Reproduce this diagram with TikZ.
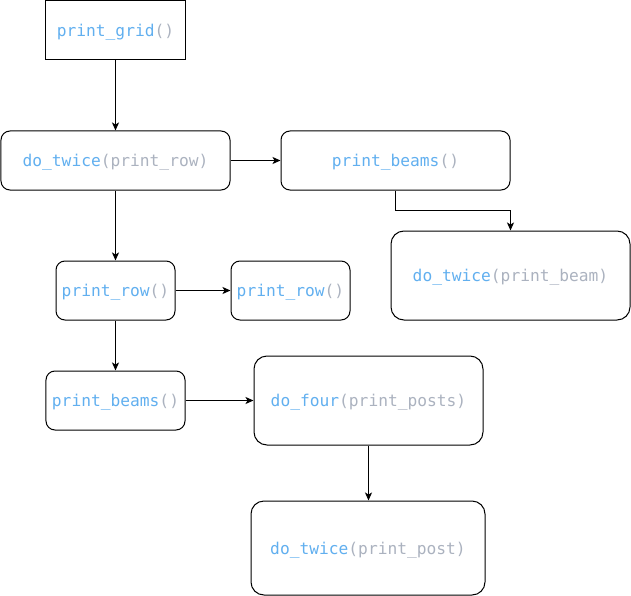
\documentclass[tikz,border=0pt]{standalone}
\usepackage{fontspec}
\setmonofont{DejaVu Sans Mono}
\usetikzlibrary{arrows.meta}
\definecolor{fnblue}{HTML}{61AFEF}
\definecolor{argray}{HTML}{ABB2BF}
\newcommand{\fname}[1]{\textcolor{fnblue}{#1}}
\newcommand{\fargs}[1]{\textcolor{argray}{#1}}

\tikzstyle{call} = [draw=black, line width=1bp, rectangle, inner sep=0pt,
  text depth=0pt, font=\ttfamily\fontsize{16.3}{19}\selectfont]
\tikzstyle{callbox} = [call, rounded corners=9bp, minimum height=59bp]
\tikzstyle{bigbox} = [call, rounded corners=13bp]
\tikzstyle{flow} = [-{Stealth[length=8bp,width=7bp,inset=2bp]}, line width=1bp]

\begin{document}
\begin{tikzpicture}[x=1bp, y=-1bp]
        \useasboundingbox (0,0) rectangle (631,596);
        \node [call, minimum width=139bp, minimum height=59bp]
                                    (grid)    at (115.5, 30.5) {\fname{print\_grid}\fargs{()}};
        \node [callbox, minimum width=229bp] (twicerow) at (115.5,160.5) {\fname{do\_twice}\fargs{(print\_row)}};
        \node [callbox, minimum width=229bp] (beams1)   at (395.5,160.5) {\fname{print\_beams}\fargs{()}};
        \node [bigbox, minimum width=239bp, minimum height=89bp]
                                    (twicebeam) at (510.5,275.5) {\fname{do\_twice}\fargs{(print\_beam)}};
        \node [callbox, minimum width=119bp] (row1)     at (115.5,290.5) {\fname{print\_row}\fargs{()}};
        \node [callbox, minimum width=119bp] (row2)     at (290.5,290.5) {\fname{print\_row}\fargs{()}};
        \node [callbox, minimum width=139bp] (beams2)   at (115.5,400.5) {\fname{print\_beams}\fargs{()}};
        \node [bigbox, minimum width=229bp, minimum height=89bp]
                                    (fourposts) at (368.5,400.5) {\fname{do\_four}\fargs{(print\_posts)}};
        \node [bigbox, minimum width=234bp, minimum height=94bp]
                                    (twicepost) at (368,548) {\fname{do\_twice}\fargs{(print\_post)}};

        \draw [flow] (grid.south) -- (twicerow.north);
        \draw [flow] (twicerow.east) -- (beams1.west);
        \draw [flow] (beams1.south) -- ++(0,20) -| (twicebeam.north);
        \draw [flow] (twicerow.south) -- (row1.north);
        \draw [flow] (row1.east) -- (row2.west);
        \draw [flow] (row1.south) -- (beams2.north);
        \draw [flow] (beams2.east) -- (fourposts.west);
        \draw [flow] (fourposts.south) -- (fourposts.south |- twicepost.north);
      \end{tikzpicture}
\end{document}
